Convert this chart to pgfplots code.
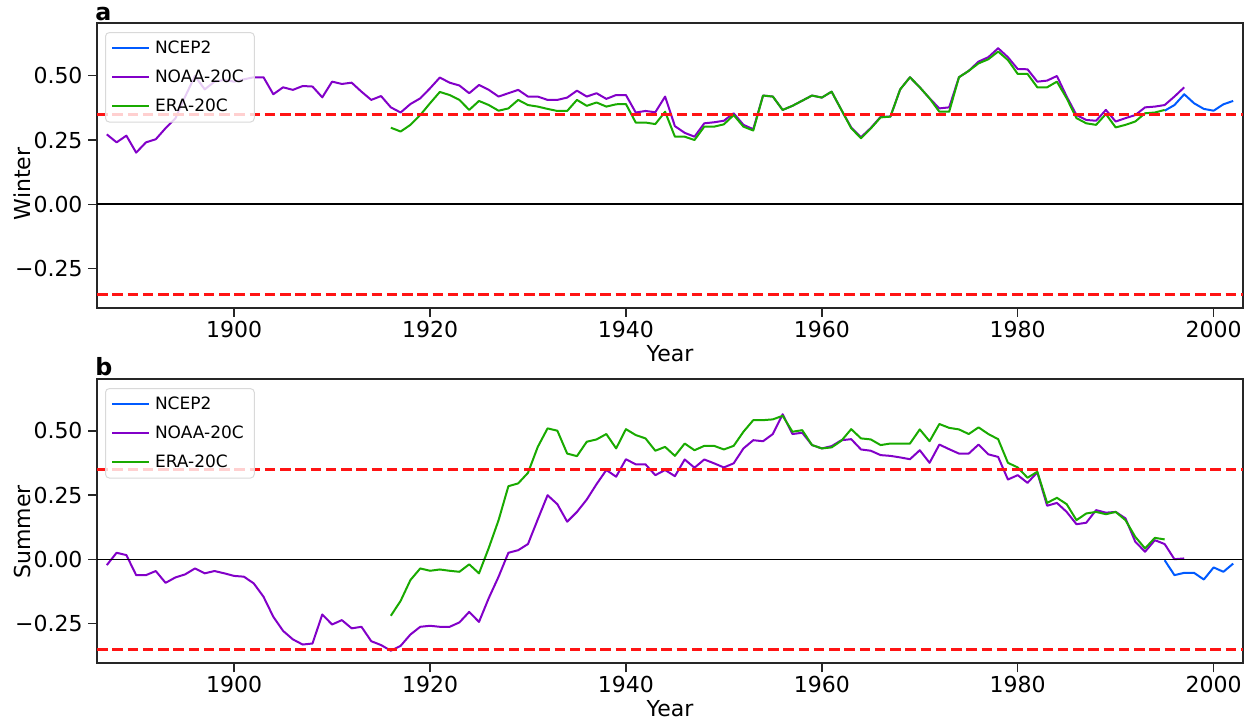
\documentclass[border=0pt]{standalone}
\usepackage{pgfplots}
\pgfplotsset{compat=1.18}
\usepackage{pgfplotstable}
\usepackage{fontspec}
\setmainfont{DejaVu Sans}
\definecolor{ncep}{RGB}{0,90,255}
\definecolor{noaa}{RGB}{130,0,200}
\definecolor{era}{RGB}{25,170,0}
\definecolor{refred}{RGB}{255,20,20}

% ---------------- Panel a (Winter) ----------------
\pgfplotstableread{
year val
1887 0.272
1888 0.241
1889 0.267
1890 0.201
1891 0.241
1892 0.253
1893 0.296
1894 0.334
1895 0.419
1896 0.499
1897 0.447
1898 0.477
1899 0.484
1900 0.477
1901 0.486
1902 0.494
1903 0.494
1904 0.428
1905 0.455
1906 0.445
1907 0.460
1908 0.458
1909 0.416
1910 0.477
1911 0.468
1912 0.473
1913 0.438
1914 0.406
1915 0.421
1916 0.377
1917 0.357
1918 0.390
1919 0.412
1920 0.451
1921 0.493
1922 0.473
1923 0.462
1924 0.432
1925 0.464
1926 0.445
1927 0.419
1928 0.432
1929 0.445
1930 0.419
1931 0.419
1932 0.406
1933 0.406
1934 0.415
1935 0.442
1936 0.419
1937 0.432
1938 0.410
1939 0.425
1940 0.425
1941 0.357
1942 0.363
1943 0.358
1944 0.419
1945 0.304
1946 0.278
1947 0.263
1948 0.315
1949 0.319
1950 0.325
1951 0.354
1952 0.309
1953 0.292
1954 0.423
1955 0.419
1956 0.367
1957 0.383
1958 0.403
1959 0.423
1960 0.415
1961 0.438
1962 0.367
1963 0.299
1964 0.261
1965 0.297
1966 0.340
1967 0.341
1968 0.447
1969 0.494
1970 0.455
1971 0.412
1972 0.373
1973 0.377
1974 0.494
1975 0.519
1976 0.555
1977 0.572
1978 0.607
1979 0.572
1980 0.526
1981 0.525
1982 0.477
1983 0.481
1984 0.499
1985 0.419
1986 0.347
1987 0.328
1988 0.325
1989 0.367
1990 0.322
1991 0.335
1992 0.347
1993 0.377
1994 0.380
1995 0.386
1996 0.419
1997 0.455
}\noaaW

\pgfplotstableread{
year val
1916 0.298
1917 0.283
1918 0.309
1919 0.347
1920 0.393
1921 0.437
1922 0.425
1923 0.406
1924 0.367
1925 0.402
1926 0.386
1927 0.364
1928 0.373
1929 0.406
1930 0.386
1931 0.380
1932 0.371
1933 0.363
1934 0.363
1935 0.406
1936 0.383
1937 0.396
1938 0.380
1939 0.389
1940 0.390
1941 0.318
1942 0.318
1943 0.312
1944 0.360
1945 0.263
1946 0.263
1947 0.250
1948 0.302
1949 0.302
1950 0.311
1951 0.347
1952 0.302
1953 0.287
1954 0.423
1955 0.419
1956 0.367
1957 0.383
1958 0.403
1959 0.423
1960 0.415
1961 0.438
1962 0.367
1963 0.296
1964 0.257
1965 0.295
1966 0.338
1967 0.341
1968 0.447
1969 0.494
1970 0.455
1971 0.412
1972 0.360
1973 0.360
1974 0.494
1975 0.519
1976 0.548
1977 0.564
1978 0.594
1979 0.561
1980 0.507
1981 0.507
1982 0.455
1983 0.455
1984 0.477
1985 0.412
1986 0.335
1987 0.315
1988 0.309
1989 0.351
1990 0.299
1991 0.309
1992 0.322
1993 0.354
1994 0.357
1995 0.367
}\eraW

\pgfplotstableread{
year val
1995 0.364
1996 0.386
1997 0.428
1998 0.393
1999 0.371
2000 0.364
2001 0.389
2002 0.402
}\ncepW

% ---------------- Panel b (Summer) ----------------
\pgfplotstableread{
year val
1887 -0.022
1888 0.026
1889 0.017
1890 -0.061
1891 -0.061
1892 -0.045
1893 -0.091
1894 -0.070
1895 -0.058
1896 -0.035
1897 -0.054
1898 -0.045
1899 -0.054
1900 -0.064
1901 -0.067
1902 -0.093
1903 -0.145
1904 -0.223
1905 -0.278
1906 -0.311
1907 -0.331
1908 -0.327
1909 -0.214
1910 -0.253
1911 -0.236
1912 -0.268
1913 -0.262
1914 -0.318
1915 -0.333
1916 -0.355
1917 -0.336
1918 -0.292
1919 -0.262
1920 -0.258
1921 -0.262
1922 -0.262
1923 -0.245
1924 -0.204
1925 -0.243
1926 -0.150
1927 -0.067
1928 0.026
1929 0.036
1930 0.060
1931 0.156
1932 0.250
1933 0.215
1934 0.147
1935 0.185
1936 0.233
1937 0.293
1938 0.348
1939 0.322
1940 0.390
1941 0.370
1942 0.370
1943 0.328
1944 0.348
1945 0.324
1946 0.389
1947 0.357
1948 0.389
1949 0.374
1950 0.358
1951 0.374
1952 0.432
1953 0.464
1954 0.460
1955 0.488
1956 0.565
1957 0.488
1958 0.493
1959 0.445
1960 0.432
1961 0.441
1962 0.464
1963 0.468
1964 0.428
1965 0.423
1966 0.406
1967 0.403
1968 0.397
1969 0.390
1970 0.425
1971 0.376
1972 0.447
1973 0.429
1974 0.412
1975 0.412
1976 0.447
1977 0.409
1978 0.399
1979 0.311
1980 0.328
1981 0.298
1982 0.339
1983 0.209
1984 0.220
1985 0.185
1986 0.137
1987 0.143
1988 0.192
1989 0.182
1990 0.185
1991 0.160
1992 0.069
1993 0.030
1994 0.075
1995 0.060
1996 0.001
1997 0.004
}\noaaS

\pgfplotstableread{
year val
1916 -0.219
1917 -0.161
1918 -0.080
1919 -0.035
1920 -0.044
1921 -0.039
1922 -0.044
1923 -0.048
1924 -0.019
1925 -0.054
1926 0.045
1927 0.153
1928 0.285
1929 0.296
1930 0.337
1931 0.438
1932 0.510
1933 0.501
1934 0.412
1935 0.402
1936 0.458
1937 0.467
1938 0.488
1939 0.432
1940 0.507
1941 0.484
1942 0.471
1943 0.423
1944 0.438
1945 0.403
1946 0.451
1947 0.425
1948 0.442
1949 0.442
1950 0.428
1951 0.442
1952 0.497
1953 0.542
1954 0.542
1955 0.545
1956 0.559
1957 0.497
1958 0.503
1959 0.445
1960 0.432
1961 0.436
1962 0.462
1963 0.507
1964 0.471
1965 0.467
1966 0.445
1967 0.451
1968 0.451
1969 0.451
1970 0.506
1971 0.460
1972 0.527
1973 0.512
1974 0.506
1975 0.488
1976 0.514
1977 0.488
1978 0.468
1979 0.376
1980 0.358
1981 0.318
1982 0.341
1983 0.220
1984 0.240
1985 0.215
1986 0.153
1987 0.179
1988 0.185
1989 0.176
1990 0.185
1991 0.153
1992 0.088
1993 0.043
1994 0.084
1995 0.078
}\eraS

\pgfplotstableread{
year val
1995 -0.003
1996 -0.061
1997 -0.052
1998 -0.052
1999 -0.078
2000 -0.031
2001 -0.048
2002 -0.016
}\ncepS

\pgfplotsset{
  myaxis/.style={
    scale only axis,
    width=458.4bp,
    xmin=1886, xmax=2003,
    clip=false,
    axis line style={line width=0.65bp, black!85},
    every tick/.style={line width=0.6bp, black!85},
    tick align=outside,
    major tick length=3.6bp,
    tick pos=left,
    xtick={1900,1920,1940,1960,1980,2000},
    xticklabels={1900,1920,1940,1960,1980,2000},
    ytick={-0.25,0,0.25,0.5},
    yticklabels={−0.25,0.00,0.25,0.50},
    ticklabel style={font=\fontsize{8.8bp}{10bp}\selectfont},
    xticklabel style={inner sep=0pt, yshift=-1.4bp},
    yticklabel style={inner sep=0pt, xshift=-2bp},
    xlabel={Year},
    every axis x label/.style={at={(axis description cs:0.5,0)}, anchor=north,
      yshift=-14.8bp, inner sep=0pt, font=\fontsize{8.8bp}{10bp}\selectfont},
    legend style={at={(axis description cs:0.007,0.968)}, anchor=north west,
      draw=black!15, line width=0.4bp, rounded corners=1.5bp,
      fill=white, fill opacity=0.8, text opacity=1,
      font=\fontsize{6.8bp}{8bp}\selectfont,
      inner xsep=2.2bp, inner ysep=1.2bp, row sep=1.4bp,
      nodes={text height=5bp, text depth=1.2bp}},
    legend cell align=left,
    legend image code/.code={\draw[#1, line width=0.8bp] (0bp,0bp) -- (14.8bp,0bp);},
    every axis plot/.append style={line width=0.8bp, line join=round},
  }
}

\begin{document}
\begin{tikzpicture}
\useasboundingbox (0,0) rectangle (502bp,289.6bp);

% Panel a
\begin{axis}[myaxis,
  at={(38.8bp,166.4bp)}, anchor=south west,
  height=114bp,
  ymin=-0.403, ymax=0.705,
  ylabel={Winter},
  every axis y label/.style={at={(axis description cs:-0.065,0.435)}, rotate=90,
    anchor=center, inner sep=0pt, font=\fontsize{8.8bp}{10bp}\selectfont},
]
\addplot[ncep] table[x=year, y=val] {\ncepW};
\addlegendentry{NCEP2}
\addplot[noaa] table[x=year, y=val] {\noaaW};
\addlegendentry{NOAA-20C}
\addplot[era] table[x=year, y=val] {\eraW};
\addlegendentry{ERA-20C}
\addplot[black, line width=0.75bp, forget plot] coordinates {(1886,0) (2003,0)};
\addplot[refred, line width=1bp, dash pattern=on 4.2bp off 1.9bp, forget plot] coordinates {(1886,0.35) (2003,0.35)};
\addplot[refred, line width=1bp, dash pattern=on 4.2bp off 1.9bp, forget plot] coordinates {(1886,-0.35) (2003,-0.35)};
\node[anchor=base west, inner sep=0pt, font=\bfseries\fontsize{9.5bp}{10bp}\selectfont,
  xshift=-0.8bp, yshift=1bp] at (rel axis cs:0,1) {a};
\end{axis}

% Panel b
\begin{axis}[myaxis,
  at={(38.8bp,24.28bp)}, anchor=south west,
  height=113.7bp,
  ymin=-0.404, ymax=0.702,
  ylabel={Summer},
  every axis y label/.style={at={(axis description cs:-0.065,0.462)}, rotate=90,
    anchor=center, inner sep=0pt, font=\fontsize{8.8bp}{10bp}\selectfont},
]
\addplot[ncep] table[x=year, y=val] {\ncepS};
\addlegendentry{NCEP2}
\addplot[noaa] table[x=year, y=val] {\noaaS};
\addlegendentry{NOAA-20C}
\addplot[era] table[x=year, y=val] {\eraS};
\addlegendentry{ERA-20C}
\addplot[black, line width=0.75bp, forget plot] coordinates {(1886,0) (2003,0)};
\addplot[refred, line width=1bp, dash pattern=on 4.2bp off 1.9bp, forget plot] coordinates {(1886,0.35) (2003,0.35)};
\addplot[refred, line width=1bp, dash pattern=on 4.2bp off 1.9bp, forget plot] coordinates {(1886,-0.35) (2003,-0.35)};
\node[anchor=base west, inner sep=0pt, font=\bfseries\fontsize{9.5bp}{10bp}\selectfont,
  xshift=-0.8bp, yshift=1.5bp] at (rel axis cs:0,1) {b};
\end{axis}
\end{tikzpicture}
\end{document}
